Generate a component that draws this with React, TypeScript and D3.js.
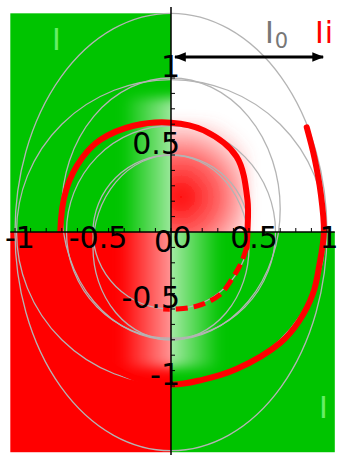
import React from 'react';
import * as d3 from 'd3';

// quadrant backgrounds (data coords)
const xExtent = [-1.03, 1.05];
const yExtent = [-1.43, 1.42];
const quadColors = ['#00c400', '#ffffff', '#ff0000', '#00c400']; // TL, TR, BL, BR

// tick labels
const xTickValues = [-1, -0.5, 0, 0.5, 1];
const xTickLabels = ['-1', '-0.5', '0', '0.5', '1'];
const yTickValues = [-1, -0.5, 0, 0.5, 1];
const yTickLabels = ['-1', '-0.5', '0', '0.5', '1'];

// thin grey curves: [cx, cy, rx, ry]
const greyEllipses = [
  [0, 0, 1, 1.42],
  [0, 0, 0.99, 0.99],
  [0, 0.15, 0.7, 0.85],
  [0, 0, 0.67, 0.69],
  [0, 0, 0.5, 0.5],
  [0, -0.1, 0.5, 0.6],
];

// thick red spiral
const redSolid = [
  [0.87, 0.68], [0.92, 0.48], [0.96, 0.25], [0.98, 0.0], [0.95, -0.22],
  [0.91, -0.4], [0.82, -0.58], [0.7, -0.72], [0.42, -0.89], [0.2, -0.96],
  [0.0, -0.99], [-0.3, -0.92], [-0.55, -0.7], [-0.68, -0.38], [-0.71, 0.0],
  [-0.67, 0.28], [-0.57, 0.48], [-0.45, 0.6], [-0.24, 0.69], [0.0, 0.71],
  [0.21, 0.66], [0.42, 0.49], [0.49, 0.21], [0.49, 0.0], [0.485, -0.1],
];
const redDashed = [
  [0.485, -0.1], [0.45, -0.2], [0.4, -0.29], [0.31, -0.41], [0.17, -0.48],
  [0.03, -0.5], [-0.05, -0.5],
];

const W = 339;
const H = 457;

export default function App() {
  const x = d3.scaleLinear().domain([-1, 1]).range([15, 327]);
  const y = d3.scaleLinear().domain([-1, 1]).range([386, 78]);
  const x0 = x(0);
  const y0 = y(0);
  const L = x(xExtent[0]), R = x(xExtent[1]);
  const T = y(yExtent[1]), B = y(yExtent[0]);

  const line = d3.line<number[]>()
    .x(d => x(d[0]))
    .y(d => y(d[1]))
    .curve(d3.curveCatmullRom.alpha(0.5));

  const quads = [
    [L, T, x0 - L, y0 - T],
    [x0, T, R - x0, y0 - T],
    [L, y0, x0 - L, B - y0],
    [x0, y0, R - x0, B - y0],
  ];

  const minor = d3.range(-10, 11).map(i => i / 10);
  const font = '"DejaVu Sans", sans-serif';

  return (
    <svg width={W} height={H} style={{ position: 'absolute', left: 0, top: 0 }} fontFamily={font}>
      <defs>
        <filter id="soft" x="-50%" y="-50%" width="200%" height="200%">
          <feGaussianBlur stdDeviation="6" />
        </filter>
        {quads.map((q, i) => (
          <clipPath id={`q${i}`} key={i}>
            <rect x={q[0]} y={q[1]} width={q[2]} height={q[3]} />
          </clipPath>
        ))}
        <linearGradient id="tl" x1="0" x2="1" y1="0" y2="0">
          <stop offset="0" stopColor="#fff" stopOpacity="0" />
          <stop offset="1" stopColor="#fff" stopOpacity="0.85" />
        </linearGradient>
        <linearGradient id="bl" x1="0" x2="1" y1="0" y2="0">
          <stop offset="0" stopColor="#fff" stopOpacity="0" />
          <stop offset="1" stopColor="#fff" stopOpacity="0.8" />
        </linearGradient>
        <linearGradient id="br" x1="0" x2="1" y1="0" y2="0">
          <stop offset="0" stopColor="#fff" stopOpacity="0.9" />
          <stop offset="1" stopColor="#fff" stopOpacity="0" />
        </linearGradient>
        <radialGradient id="tr" gradientUnits="userSpaceOnUse" cx={x0 + 10} cy={y0 - 35} r={85}>
          <stop offset="0" stopColor="#ff0000" stopOpacity="1" />
          <stop offset="0.45" stopColor="#ff3030" stopOpacity="0.75" />
          <stop offset="1" stopColor="#ff6060" stopOpacity="0" />
        </radialGradient>
        <marker id="ah" viewBox="0 0 10 10" refX="9" refY="5" markerWidth="4" markerHeight="4" orient="auto-start-reverse">
          <path d="M0,1 L10,5 L0,9 Z" fill="#000" />
        </marker>
      </defs>

      {quads.map((q, i) => (
        <rect key={i} x={q[0]} y={q[1]} width={q[2]} height={q[3]} fill={quadColors[i]} />
      ))}

      {/* soft inverted patch near the origin */}
      <g clipPath="url(#q0)">
        <rect x={x(-0.31)} y={y(0.87)} width={x0 - x(-0.31) + 20} height={y0 - y(0.87) + 30} fill="url(#tl)" filter="url(#soft)" />
      </g>
      <g clipPath="url(#q2)">
        <rect x={x(-0.33)} y={y0 - 30} width={x0 - x(-0.33) + 20} height={y(-0.88) - y0 + 30} fill="url(#bl)" filter="url(#soft)" />
      </g>
      <g clipPath="url(#q3)">
        <rect x={x0 - 20} y={y0 - 30} width={x(0.32) - x0 + 20} height={y(-0.88) - y0 + 30} fill="url(#br)" filter="url(#soft)" />
      </g>
      <g clipPath="url(#q1)">
        <rect x={x0 - 20} y={y(0.72)} width={x(0.5) - x0 + 20} height={y0 - y(0.72) + 30} fill="url(#tr)" filter="url(#soft)" />
      </g>

      {greyEllipses.map((e, i) => (
        <ellipse key={i} cx={x(e[0])} cy={y(e[1])} rx={x(e[2]) - x0} ry={y0 - y(e[3])}
          fill="none" stroke="#b4b4b4" strokeWidth={1.3} />
      ))}

      <path d={line(redSolid) || ''} fill="none" stroke="#ff0000" strokeWidth={6} strokeLinecap="round" />
      <path d={line(redDashed) || ''} fill="none" stroke="#ff0000" strokeWidth={5} strokeDasharray="12 6" />

      {/* axes */}
      <line x1={L} x2={R} y1={y0} y2={y0} stroke="#000" strokeWidth={1.5} />
      <line x1={x0} x2={x0} y1={7} y2={455} stroke="#000" strokeWidth={1.5} />
      {minor.map(v => (
        <g key={v}>
          <line x1={x(v)} x2={x(v)} y1={y0 - 4} y2={y0} stroke="#000" strokeWidth={1} />
          <line x1={x0} x2={x0 + 4} y1={y(v)} y2={y(v)} stroke="#000" strokeWidth={1} />
        </g>
      ))}
      {xTickValues.map((v, i) => (
        <text key={i} x={x(v) + (v === 0 ? 11 : v === 1 ? 2 : 5)} y={y0 + 16} textAnchor="middle" fontSize={30} fill="#000">
          {xTickLabels[i]}
        </text>
      ))}
      {yTickValues.map((v, i) => (
        <text key={i} x={v === 0 ? x0 + 2 : x0 + 9} y={v === 0 ? y0 + 20 : y(v) - 1} textAnchor="end" fontSize={30} fill="#000">
          {yTickLabels[i]}
        </text>
      ))}

      {/* annotation */}
      <line x1={x0 + 4} x2={x(0.975)} y1={57} y2={57} stroke="#000" strokeWidth={3}
        markerStart="url(#ah)" markerEnd="url(#ah)" />
      <text x={265} y={43} fontSize={30} fill="#777">I<tspan fontSize={21} dy={5} dx={1}>0</tspan></text>
      <text x={315} y={43} fontSize={30} fill="#ff0000" letterSpacing={1}>Ii</text>
      <text x={52} y={50} fontSize={30} fill="#66ee66">I</text>
      <text x={319} y={418} fontSize={30} fill="#66ee66">I</text>
    </svg>
  );
}
